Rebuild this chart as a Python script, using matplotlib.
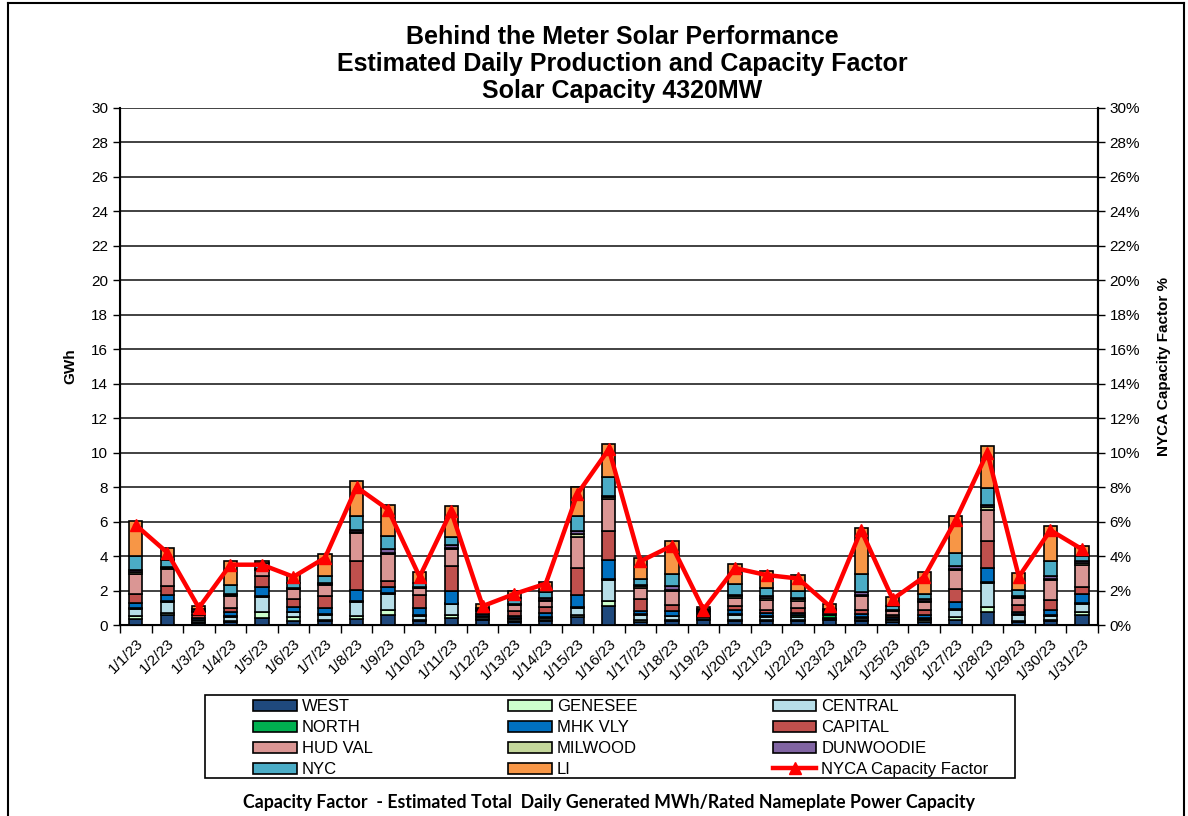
import numpy as np
import matplotlib
matplotlib.use("Agg")
import matplotlib.pyplot as plt
from matplotlib.lines import Line2D
from matplotlib.patches import Rectangle
from matplotlib.ticker import MultipleLocator, FuncFormatter

plt.rcParams['font.family'] = ['Liberation Sans', 'DejaVu Sans']

# Dates (Jan 2023)
dates = [f"1/{d}/23" for d in range(1, 32)]

# Zone production, GWh
west = [0.33, 0.56, 0.12, 0.19, 0.43, 0.25, 0.22, 0.33, 0.58, 0.25, 0.43, 0.30, 0.20, 0.22, 0.48, 1.10,
        0.20, 0.25, 0.30, 0.25, 0.25, 0.25, 0.30, 0.22, 0.15, 0.20, 0.30, 0.73, 0.17, 0.25, 0.58]
genesee = [0.20, 0.15, 0.05, 0.05, 0.31, 0.20, 0.07, 0.19, 0.29, 0.07, 0.15, 0.05, 0.05, 0.05, 0.10, 0.30,
           0.10, 0.05, 0.04, 0.05, 0.05, 0.05, 0.05, 0.05, 0.04, 0.08, 0.17, 0.33, 0.08, 0.07, 0.19]
central = [0.40, 0.62, 0.10, 0.25, 0.90, 0.28, 0.29, 0.83, 0.95, 0.20, 0.62, 0.12, 0.12, 0.12, 0.39, 1.20,
           0.30, 0.20, 0.10, 0.27, 0.15, 0.19, 0.08, 0.12, 0.10, 0.10, 0.41, 1.39, 0.33, 0.19, 0.48]
north = [0.05, 0.05, 0.05, 0.05, 0.05, 0.05, 0.05, 0.06, 0.05, 0.05, 0.05, 0.08, 0.04, 0.05, 0.07, 0.05,
         0.05, 0.05, 0.10, 0.05, 0.05, 0.07, 0.15, 0.05, 0.05, 0.05, 0.05, 0.05, 0.05, 0.05, 0.05]
mhk_vly = [0.30, 0.39, 0.10, 0.22, 0.54, 0.27, 0.35, 0.60, 0.31, 0.43, 0.75, 0.12, 0.14, 0.27, 0.68, 1.10,
           0.19, 0.29, 0.12, 0.25, 0.19, 0.15, 0.08, 0.19, 0.14, 0.15, 0.39, 0.80, 0.12, 0.33, 0.50]
capital = [0.50, 0.52, 0.15, 0.23, 0.62, 0.45, 0.68, 1.68, 0.39, 0.77, 1.45, 0.12, 0.29, 0.33, 1.59, 1.70,
           0.68, 0.35, 0.08, 0.23, 0.19, 0.29, 0.08, 0.25, 0.10, 0.29, 0.77, 1.55, 0.40, 0.54, 0.39]
hud_val = [1.20, 0.97, 0.20, 0.68, 0.33, 0.58, 0.64, 1.64, 1.57, 0.35, 0.97, 0.08, 0.35, 0.35, 1.80, 1.86,
           0.62, 0.81, 0.05, 0.48, 0.58, 0.39, 0.06, 0.81, 0.22, 0.45, 1.12, 1.80, 0.40, 1.16, 1.30]
milwood = [0.10, 0.05, 0.03, 0.07, 0.03, 0.03, 0.08, 0.06, 0.05, 0.05, 0.05, 0.03, 0.03, 0.07, 0.18, 0.10,
           0.10, 0.05, 0.03, 0.08, 0.12, 0.10, 0.05, 0.08, 0.05, 0.09, 0.05, 0.17, 0.07, 0.07, 0.10]
dunwoodie = [0.10, 0.05, 0.03, 0.08, 0.03, 0.03, 0.07, 0.15, 0.20, 0.05, 0.20, 0.03, 0.03, 0.08, 0.15, 0.10,
             0.10, 0.20, 0.03, 0.08, 0.10, 0.10, 0.05, 0.15, 0.05, 0.09, 0.14, 0.17, 0.07, 0.20, 0.15]
nyc = [0.85, 0.40, 0.10, 0.52, 0.35, 0.30, 0.41, 0.80, 0.77, 0.20, 0.41, 0.08, 0.30, 0.35, 0.90, 1.10,
       0.35, 0.72, 0.06, 0.62, 0.45, 0.39, 0.05, 1.03, 0.20, 0.31, 0.77, 0.97, 0.35, 0.83, 0.29]
li = [2.00, 0.70, 0.19, 1.35, 0.15, 0.48, 1.28, 2.03, 1.82, 0.65, 1.82, 0.20, 0.43, 0.62, 1.64, 1.90,
      1.20, 1.90, 0.15, 1.16, 1.00, 0.90, 0.30, 2.70, 0.55, 1.25, 2.15, 2.40, 0.95, 2.07, 0.56]

# NYCA capacity factor, %
cap_factor = [5.8, 4.2, 1.0, 3.5, 3.5, 2.8, 3.9, 8.0, 6.7, 2.8, 6.6, 1.1, 1.8, 2.4, 7.6, 10.2,
              3.7, 4.6, 0.9, 3.3, 2.9, 2.7, 1.1, 5.5, 1.5, 2.8, 6.1, 10.0, 2.8, 5.5, 4.4]

zones = ["WEST", "GENESEE", "CENTRAL", "NORTH", "MHK VLY", "CAPITAL",
         "HUD VAL", "MILWOOD", "DUNWOODIE", "NYC", "LI"]
zone_vals = [west, genesee, central, north, mhk_vly, capital,
             hud_val, milwood, dunwoodie, nyc, li]
zone_colors = ["#1F497D", "#CCFFCC", "#B7DEE8", "#00B050", "#0070C0", "#C0504D",
               "#DA9694", "#C4D79B", "#8064A2", "#4BACC6", "#F79646"]

fig = plt.figure(figsize=(11.88, 8.16), dpi=100)
ax = fig.add_axes([0.101, 0.234, 0.823, 0.634])

x = np.arange(len(dates))
bottom = np.zeros(len(dates))
handles = {}
for name, vals, col in zip(zones, zone_vals, zone_colors):
    b = ax.bar(x, vals, width=0.42, bottom=bottom, color=col,
               edgecolor="black", linewidth=1.2, label=name, zorder=3)
    handles[name] = b
    bottom += np.array(vals)

ax.set_xlim(-0.5, len(dates) - 0.5)
ax.set_ylim(0, 30)
ax.yaxis.set_major_locator(MultipleLocator(2))
ax.grid(axis="y", color="#333333", linewidth=1.3, zorder=0)
ax.set_xticks(x)
ax.set_xticklabels(dates, rotation=45, ha="right", rotation_mode="anchor", fontsize=11)
ax.set_xticks(np.arange(-0.5, len(dates), 1), minor=True)
ax.tick_params(axis="x", which="major", length=0, pad=8)
ax.tick_params(axis="x", which="minor", length=6, width=1, direction="out")
ax.tick_params(axis="y", labelsize=11, length=5, width=1)
ax.set_ylabel("GWh", fontsize=11, fontweight="bold", labelpad=10)
for s in ["left", "bottom", "right"]:
    ax.spines[s].set_linewidth(1.5)
ax.spines["top"].set_visible(False)

ax2 = ax.twinx()
ax2.set_ylim(0, 0.30)
cf_line, = ax2.plot(x, np.array(cap_factor) / 100, color="#FF0000", linewidth=3.2,
                    marker="^", markersize=8, zorder=5, label="NYCA Capacity Factor")
ax2.yaxis.set_major_locator(MultipleLocator(0.02))
ax2.yaxis.set_major_formatter(FuncFormatter(lambda v, p: f"{v*100:.0f}%"))
ax2.tick_params(axis="y", labelsize=11, length=5, width=1)
ax2.set_ylabel("NYCA Capacity Factor %", fontsize=11, fontweight="bold", labelpad=12)
ax2.spines["right"].set_linewidth(1.5)
ax2.spines["top"].set_visible(False)

fig.text(0.524, 0.9216, "Behind the Meter Solar Performance\nEstimated Daily Production and Capacity Factor\nSolar Capacity 4320MW",
         ha="center", va="center", fontsize=18, fontweight="bold", linespacing=1.15)

# legend, filled column by column
order = ["WEST", "NORTH", "HUD VAL", "NYC",
         "GENESEE", "MHK VLY", "MILWOOD", "LI",
         "CENTRAL", "CAPITAL", "DUNWOODIE", None]
leg_h, leg_l = [], []
for name in order:
    if name is None:
        leg_h.append(cf_line)
        leg_l.append("NYCA Capacity Factor")
    else:
        leg_h.append(handles[name])
        leg_l.append(name)
fig.add_artist(Rectangle((205 / 1188, 1 - 778 / 816), 810 / 1188, 83 / 816,
                         transform=fig.transFigure, facecolor="white",
                         edgecolor="black", linewidth=1.2))
leg = fig.legend(leg_h, leg_l, ncol=3, loc="upper left",
                 bbox_to_anchor=(250 / 1188, 1 - 776 / 816, 742 / 1188, 80 / 816), mode="expand",
                 frameon=False, handlelength=2.6, handleheight=0.7, handletextpad=0.3,
                 labelspacing=0.36, borderaxespad=0, borderpad=0.2,
                 prop={"family": ["Liberation Sans Narrow", "Liberation Sans"], "size": 12})

fig.text(0.513, 0.016, "Capacity Factor  - Estimated Total  Daily Generated MWh/Rated Nameplate Power Capacity",
         ha="center", va="center", fontsize=12.8, fontweight="bold", family=["Lato", "DejaVu Sans"])

# outer frame
fig.add_artist(Line2D([0.007, 0.007], [0.0, 0.996], color="black", linewidth=1.5))
fig.add_artist(Line2D([0.007, 0.997], [0.996, 0.996], color="black", linewidth=1.5))
fig.add_artist(Line2D([0.997, 0.997], [0.0, 0.996], color="black", linewidth=1.5))

fig.savefig("out.png", dpi=100)
